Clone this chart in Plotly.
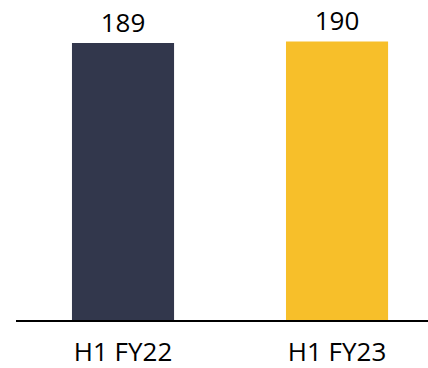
import plotly.graph_objects as go

categories = ["H1 FY22", "H1 FY23"]
values = [189, 190]
colors = ["#32374C", "#F7BF2A"]

fig = go.Figure(go.Bar(
    x=categories, y=values,
    marker=dict(color=colors, line=dict(width=0)),
    width=0.477,
    text=[str(v) for v in values],
    textposition="outside",
    constraintext="none",
    textfont=dict(family="Open Sans", size=26, color="black"),
    cliponaxis=False,
))
fig.update_layout(
    width=428, height=368,
    margin=dict(l=16, r=0, t=0, b=48),
    plot_bgcolor="white", paper_bgcolor="white",
    showlegend=False,
    font=dict(family="Open Sans", size=26, color="black"),
    xaxis=dict(range=[-0.5, 1.425], showline=True, linecolor="black", linewidth=2,
               ticks="outside", ticklen=8, tickcolor="rgba(0,0,0,0)", automargin=False,
               tickfont=dict(family="Open Sans", size=26, color="black"), showgrid=False),
    yaxis=dict(range=[0, 218.3], visible=False, showgrid=False, zeroline=False),
)
fig.write_html("out.html")
